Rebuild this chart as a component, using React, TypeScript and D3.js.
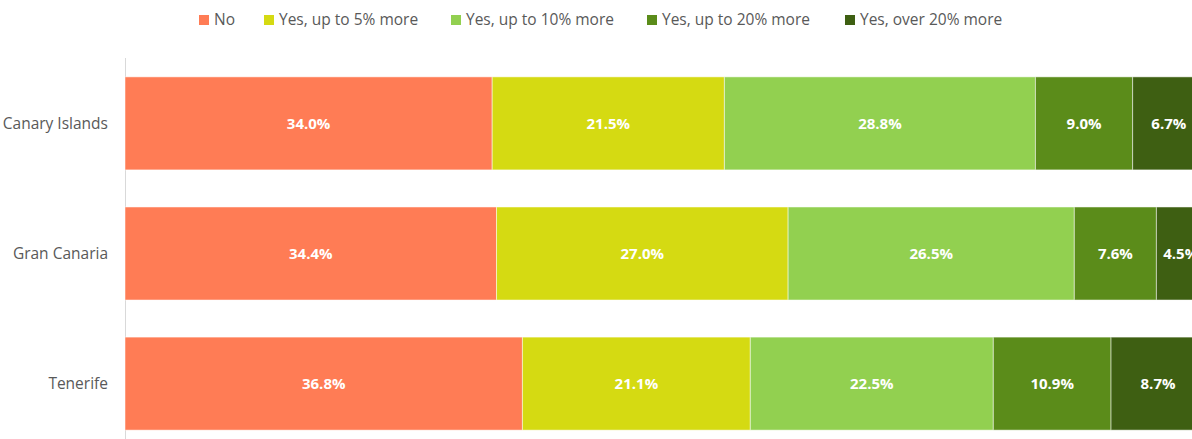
import React from 'react';
import { scaleBand, scaleLinear } from 'd3';

const categories = ['Canary Islands', 'Gran Canaria', 'Tenerife'];
const seriesNames = ['No', 'Yes, up to 5% more', 'Yes, up to 10% more', 'Yes, up to 20% more', 'Yes, over 20% more'];
const noValues = [34.0, 34.4, 36.8];
const upTo5 = [21.5, 27.0, 21.1];
const upTo10 = [28.8, 26.5, 22.5];
const upTo20 = [9.0, 7.6, 10.9];
const over20 = [6.7, 4.5, 8.7];

const seriesValues = [noValues, upTo5, upTo10, upTo20, over20];
const colors = ['#FF7C55', '#D5DA12', '#92D050', '#5B8C1A', '#3E5F12'];
const legendX = [199, 264, 451, 647, 845];

const W = 1192;
const H = 439;
const font = "'Open Sans', 'Noto Sans', sans-serif";

const App = () => {
    const x = scaleLinear().domain([0, 100]).range([125, 1205]);
    const y = scaleBand().domain(categories).range([58, 449]).paddingInner(0.285).paddingOuter(0.145);

    const rows = categories.map((cat, i) => {
        let acc = 0;
        return seriesValues.map((vals, s) => {
            const start = acc;
            acc += vals[i];
            return { cat, s, start, end: acc, value: vals[i] };
        });
    });

    return (
        <div style={{ position: 'fixed', left: 0, top: 0, width: W, height: H, background: '#fff' }}>
            <svg width={W} height={H} style={{ display: 'block' }}>
                <g>
                    {seriesNames.map((name, s) => (
                        <g key={name} transform={`translate(${legendX[s]}, 20)`}>
                            <rect x={0} y={-5} width={10} height={10} fill={colors[s]} />
                            <text x={15} y={0} dy="0.35em" fontFamily={font} fontSize={15.5} fill="#595959">{name}</text>
                        </g>
                    ))}
                </g>
                <line x1={125.5} x2={125.5} y1={58} y2={H} stroke="#D9D9D9" />
                {rows.map((segs, i) => (
                    <g key={categories[i]}>
                        <text x={108} y={(y(categories[i]) as number) + y.bandwidth() / 2} dy="0.35em" textAnchor="end" fontFamily={font} fontSize={15.5} fill="#595959">{categories[i]}</text>
                        {segs.map(d => (
                            <g key={d.s}>
                                <rect x={x(d.start)} y={y(d.cat)} width={x(d.end) - x(d.start)} height={y.bandwidth()} fill={colors[d.s]} stroke="#fff" strokeOpacity={0.5} strokeWidth={1} />
                                <text x={(x(d.start) + x(d.end)) / 2} y={(y(d.cat) as number) + y.bandwidth() / 2} dy="0.35em" textAnchor="middle" fontFamily={font} fontSize={15} fontWeight="bold" fill="#fff">{d.value.toFixed(1)}%</text>
                            </g>
                        ))}
                    </g>
                ))}
            </svg>
        </div>
    );
};

export default App;
